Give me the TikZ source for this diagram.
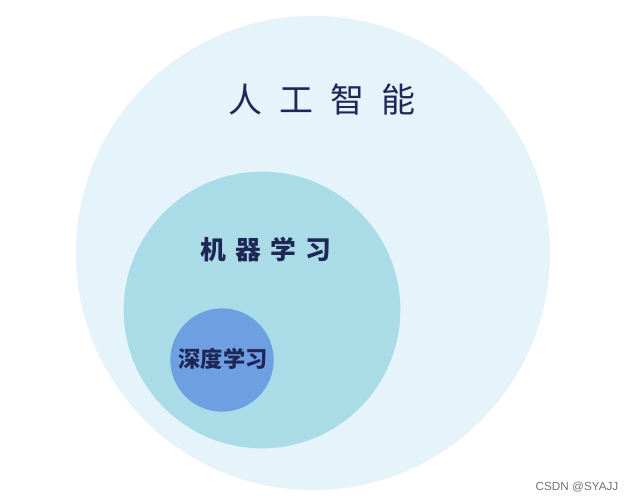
\documentclass[tikz,border=0pt]{standalone}
\usepackage{fontspec}
\newfontfamily\cjk{Noto Sans CJK SC}
\setsansfont{Liberation Sans}
\definecolor{aicolor}{HTML}{E5F3FA}
\definecolor{mlcolor}{HTML}{AADCE7}
\definecolor{dlcolor}{HTML}{6E9FE3}
\definecolor{labelcolor}{HTML}{1E2756}
\tikzset{
    area/.style={circle, inner sep=0pt},
    arealabel/.style={text=labelcolor, font=\cjk}
}
\begin{document}
\begin{tikzpicture}[x=0.03cm, y=-0.03cm]
        \useasboundingbox[fill=white] (0,0) rectangle (628,501);
        \node[area, fill=aicolor, draw=aicolor!80!blue!30, minimum size=14.2cm] (ai) at (313,253) {};
        \node[area, fill=mlcolor, minimum size=8.3cm] (ml) at (262,310) {};
        \node[area, fill=dlcolor, minimum size=3.1cm] (dl) at (222,360) {};
        \node[arealabel, font=\cjk\fontsize{29}{30}\selectfont] (ailabel) at (322,100) {人\hspace{0.5em}工\hspace{0.5em}智\hspace{0.5em}能};
        \node[arealabel, font=\cjk\bfseries\fontsize{22}{24}\selectfont] (mllabel) at (266,250) {机\hspace{0.35em}器\hspace{0.35em}学\hspace{0.35em}习};
        \node[arealabel, font=\cjk\bfseries\fontsize{19}{20}\selectfont] (dllabel) at (223,359) {深度学习};
        \node[text=black!55, font=\sffamily\fontsize{10}{11}\selectfont] (mark) at (577,487) {CSDN @SYAJJ};
    \end{tikzpicture}
\end{document}
